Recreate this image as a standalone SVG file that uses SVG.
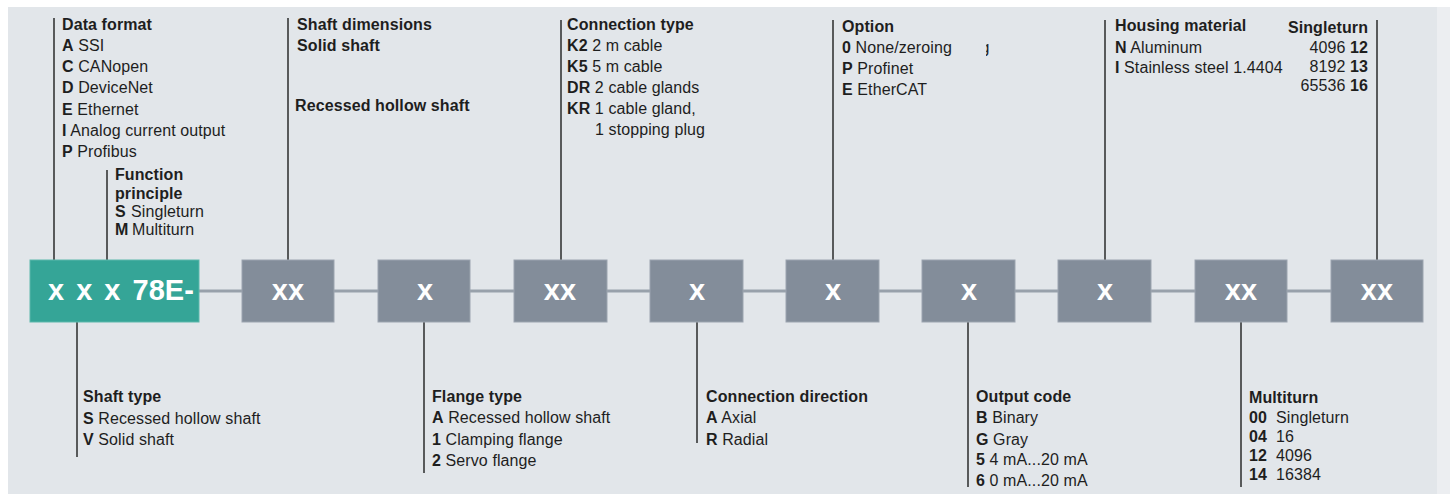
<svg xmlns="http://www.w3.org/2000/svg" width="1450" height="494" viewBox="0 0 1450 494">
<defs>
<style>
.bg{fill:#e2e6ea}
.t{font-family:"Liberation Sans",Arial,sans-serif;font-size:16px;letter-spacing:0.1px;fill:#1e1e1e}
.b{font-weight:bold}
.box{fill:#838d9a;stroke:#9ba4af;stroke-width:1}
.gbox{fill:#35a597;stroke:#5cb7ab;stroke-width:1}
.lbl{font-family:"Liberation Sans",Arial,sans-serif;font-size:29px;font-weight:bold;fill:#ffffff}
.ld{stroke:#1e1e1e;stroke-width:1.4;fill:none}
.conn{stroke:#98a1ab;stroke-width:3;fill:none}
</style>
<clipPath id="gclip"><rect x="986" y="38" width="8" height="22"/></clipPath>
</defs>
<rect x="0" y="0" width="1450" height="494" fill="#ffffff"/>
<rect class="bg" x="8" y="7" width="1429" height="487"/>
<rect x="1437" y="7" width="13" height="487" fill="#eceef1"/>

<g id="connectors">
<line class="conn" x1="199" y1="291" x2="1331" y2="291"/>
<line class="ld" x1="54" y1="18" x2="54" y2="260"/>
<line class="ld" x1="107" y1="170" x2="107" y2="260"/>
<line class="ld" x1="288" y1="18" x2="288" y2="260"/>
<line class="ld" x1="561" y1="20" x2="561" y2="260"/>
<line class="ld" x1="833" y1="20" x2="833" y2="260"/>
<line class="ld" x1="1105" y1="20" x2="1105" y2="260"/>
<line class="ld" x1="1377" y1="20" x2="1377" y2="260"/>
<line class="ld" x1="77" y1="322" x2="77" y2="457"/>
<line class="ld" x1="424" y1="322" x2="424" y2="473"/>
<line class="ld" x1="697" y1="322" x2="697" y2="443"/>
<line class="ld" x1="968" y1="322" x2="968" y2="487"/>
<line class="ld" x1="1241" y1="322" x2="1241" y2="487"/>
</g>

<g id="node-prefix"><rect class="gbox" x="30" y="260" width="169" height="62"/><text class="lbl" x="48" y="300" word-spacing="4">x x x 78E-</text></g>
<g id="node-2"><rect class="box" x="242" y="260" width="92" height="62"/><text class="lbl" x="288" y="300" text-anchor="middle">xx</text></g>
<g id="node-3"><rect class="box" x="378" y="260" width="92" height="62"/><text class="lbl" x="425" y="300" text-anchor="middle">x</text></g>
<g id="node-4"><rect class="box" x="514" y="260" width="93" height="62"/><text class="lbl" x="560" y="300" text-anchor="middle">xx</text></g>
<g id="node-5"><rect class="box" x="650" y="260" width="93" height="62"/><text class="lbl" x="697" y="300" text-anchor="middle">x</text></g>
<g id="node-6"><rect class="box" x="786" y="260" width="93" height="62"/><text class="lbl" x="833" y="300" text-anchor="middle">x</text></g>
<g id="node-7"><rect class="box" x="922" y="260" width="93" height="62"/><text class="lbl" x="969" y="300" text-anchor="middle">x</text></g>
<g id="node-8"><rect class="box" x="1058" y="260" width="93" height="62"/><text class="lbl" x="1105" y="300" text-anchor="middle">x</text></g>
<g id="node-9"><rect class="box" x="1195" y="260" width="92" height="62"/><text class="lbl" x="1241" y="300" text-anchor="middle">xx</text></g>
<g id="node-10"><rect class="box" x="1331" y="260" width="92" height="62"/><text class="lbl" x="1377" y="300" text-anchor="middle">xx</text></g>

<g id="label-data-format">
<text class="t b" x="62" y="30">Data format</text>
<text class="t" x="62" y="51"><tspan class="b">A</tspan> SSI</text>
<text class="t" x="62" y="72"><tspan class="b">C</tspan> CANopen</text>
<text class="t" x="62" y="93"><tspan class="b">D</tspan> DeviceNet</text>
<text class="t" x="62" y="114.5"><tspan class="b">E</tspan> Ethernet</text>
<text class="t" x="62" y="136"><tspan class="b">I</tspan> Analog current output</text>
<text class="t" x="62" y="157"><tspan class="b">P</tspan> Profibus</text>
</g>
<g id="label-function-principle">
<text class="t b" x="115" y="180">Function</text>
<text class="t b" x="115" y="198.5">principle</text>
<text class="t b" x="115" y="217">S</text><text class="t" x="131" y="217">Singleturn</text>
<text class="t b" x="115" y="235">M</text><text class="t" x="132" y="235">Multiturn</text>
</g>
<g id="label-shaft-dimensions">
<text class="t b" x="297" y="30">Shaft dimensions</text>
<text class="t b" x="297" y="51">Solid shaft</text>
<text class="t b" x="295" y="110.5">Recessed hollow shaft</text>
</g>
<g id="label-connection-type">
<text class="t b" x="567" y="30">Connection type</text>
<text class="t" x="567" y="51"><tspan class="b">K2</tspan> 2 m cable</text>
<text class="t" x="567" y="72"><tspan class="b">K5</tspan> 5 m cable</text>
<text class="t" x="567" y="93"><tspan class="b">DR</tspan> 2 cable glands</text>
<text class="t" x="567" y="114"><tspan class="b">KR</tspan> 1 cable gland,</text>
<text class="t" x="595" y="135">1 stopping plug</text>
</g>
<g id="label-option">
<text class="t b" x="842" y="32">Option</text>
<text class="t" x="842" y="53"><tspan class="b">0</tspan> None/zeroing</text>
<text class="t" x="980.5" y="53" clip-path="url(#gclip)">g</text>
<text class="t" x="842" y="74"><tspan class="b">P</tspan> Profinet</text>
<text class="t" x="842" y="95"><tspan class="b">E</tspan> EtherCAT</text>
</g>
<g id="label-housing-material">
<text class="t b" x="1115" y="30.5">Housing material</text>
<text class="t" x="1115" y="52.5"><tspan class="b">N</tspan> Aluminum</text>
<text class="t" x="1115" y="73"><tspan class="b">I</tspan> Stainless steel 1.4404</text>
</g>
<g id="label-singleturn">
<text class="t b" x="1368" y="33" text-anchor="end">Singleturn</text>
<text class="t" x="1368" y="53" text-anchor="end">4096 <tspan class="b">12</tspan></text>
<text class="t" x="1368" y="71.5" text-anchor="end">8192 <tspan class="b">13</tspan></text>
<text class="t" x="1368" y="90.5" text-anchor="end">65536 <tspan class="b">16</tspan></text>
</g>
<g id="label-shaft-type">
<text class="t b" x="83" y="402">Shaft type</text>
<text class="t" x="83" y="423.5"><tspan class="b">S</tspan> Recessed hollow shaft</text>
<text class="t" x="83" y="445"><tspan class="b">V</tspan> Solid shaft</text>
</g>
<g id="label-flange-type">
<text class="t b" x="432" y="401.5">Flange type</text>
<text class="t" x="432" y="423"><tspan class="b">A</tspan> Recessed hollow shaft</text>
<text class="t" x="432" y="444.5"><tspan class="b">1</tspan> Clamping flange</text>
<text class="t" x="432" y="466"><tspan class="b">2</tspan> Servo flange</text>
</g>
<g id="label-connection-direction">
<text class="t b" x="706" y="401.5">Connection direction</text>
<text class="t" x="706" y="423"><tspan class="b">A</tspan> Axial</text>
<text class="t" x="706" y="444.5"><tspan class="b">R</tspan> Radial</text>
</g>
<g id="label-output-code">
<text class="t b" x="976" y="401.5">Output code</text>
<text class="t" x="976" y="423"><tspan class="b">B</tspan> Binary</text>
<text class="t" x="976" y="444.5"><tspan class="b">G</tspan> Gray</text>
<text class="t" x="976" y="465"><tspan class="b">5</tspan> 4 mA...20 mA</text>
<text class="t" x="976" y="486"><tspan class="b">6</tspan> 0 mA...20 mA</text>
</g>
<g id="label-multiturn">
<text class="t b" x="1249" y="403">Multiturn</text>
<text class="t b" x="1249" y="423">00</text><text class="t" x="1276" y="423">Singleturn</text>
<text class="t b" x="1249" y="442">04</text><text class="t" x="1276" y="442">16</text>
<text class="t b" x="1249" y="461">12</text><text class="t" x="1276" y="461">4096</text>
<text class="t b" x="1249" y="480">14</text><text class="t" x="1276" y="480">16384</text>
</g>
</svg>
